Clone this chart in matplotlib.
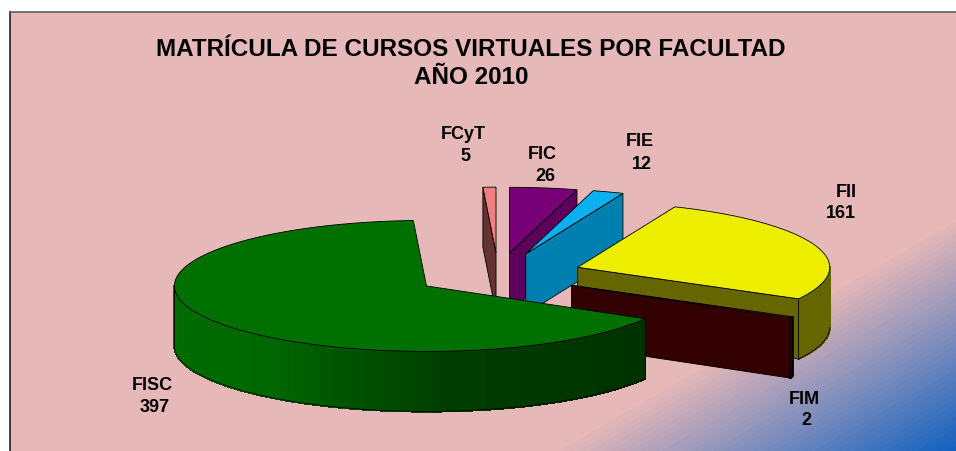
import numpy as np
import matplotlib
matplotlib.use('Agg')
import matplotlib.pyplot as plt
from matplotlib.collections import PolyCollection

# slices in clockwise order, starting at twelve o'clock
names = ['FIC', 'FIE', 'FII', 'FIM', 'FISC', 'FCyT']
values = [26, 12, 161, 2, 397, 5]

top_colors = ['#770077', '#0ab0f0', '#eeee00', '#800000', '#007000', '#f08080']
side_colors = ['#5c005c', '#0080b0', '#666600', '#330000', '#003800', '#663333']

# drawn back to front
draw_order = ['FCyT', 'FIC', 'FIE', 'FII', 'FIM', 'FISC']

title_lines = ['MATRÍCULA DE CURSOS VIRTUALES POR FACULTAD', 'AÑO 2010']

# label positions in pixels: name x, name y, value x, value y
label_pos = {'FCyT': (463, 135, 465, 157),
             'FIC': (542, 155, 545, 177),
             'FIE': (640, 142, 642, 165),
             'FII': (846, 193, 841, 214),
             'FIM': (804, 400, 806, 421),
             'FISC': (152, 386, 155, 408)}

# pie projection, pixels
cx, cy = 498.2, 275.5
rx, ry = 252, 65.5
depth = 60
explode = 0.334


def ell(x0, y0, theta):
    t = np.radians(theta)
    return x0 + rx * np.cos(t), y0 - ry * np.sin(t)


fig = plt.figure(figsize=(9.56, 4.52), dpi=100)
fig.patch.set_facecolor('white')
ax = fig.add_axes([0, 0, 1, 1])
ax.set_xlim(0, 956)
ax.set_ylim(452, 0)
ax.axis('off')

# background, pink fading to blue in the lower right corner
xx, yy = np.meshgrid(np.arange(10, 956), np.arange(13, 452))
frac = np.clip((0.5 * xx + 0.866 * yy - 665) / 204, 0, 1)
frac = np.floor(frac * 40) / 40
pink = np.array([230, 184, 184]) / 255
blue = np.array([14, 96, 192]) / 255
bg = pink + frac[..., None] * (blue - pink)
ax.imshow(bg, extent=(10, 956, 452, 13), aspect='auto', zorder=0)
ax.set_xlim(0, 956)
ax.set_ylim(452, 0)
ax.plot([10, 10], [452, 13], color='#202020', lw=1.2, zorder=1)
ax.plot([10, 956], [13, 13], color='#606060', lw=1.2, zorder=1)

# slice angles from the values
total = sum(values)
hi = 90 - np.cumsum([0] + values[:-1]) / total * 360
lo = 90 - np.cumsum(values) / total * 360

z = 2
for name in draw_order:
    i = names.index(name)
    a, b = lo[i], hi[i]
    mid = np.radians((a + b) / 2)
    x0 = cx + explode * rx * np.cos(mid)
    y0 = cy - explode * ry * np.sin(mid)

    # flat cut faces that look towards the viewer
    for theta, show in [(a, np.cos(np.radians(a)) > 0.001),
                        (b, np.cos(np.radians(b)) < -0.001)]:
        if show:
            ex, ey = ell(x0, y0, theta)
            ax.fill([x0, ex, ex, x0], [y0, ey, ey + depth, y0 + depth],
                    facecolor=side_colors[i], edgecolor='black', lw=0.6, zorder=z)
            z += 1

    # outer wall, only the part below the horizontal axis of the ellipse
    wall_a, wall_b = max(a, -180), min(b, 0)
    if wall_b > wall_a:
        th = np.linspace(wall_a, wall_b, max(int(wall_b - wall_a) * 2, 3))
        wx, wy = ell(x0, y0, th)
        strips = [[(wx[k], wy[k]), (wx[k + 1], wy[k + 1]),
                   (wx[k + 1], wy[k + 1] + depth), (wx[k], wy[k] + depth)]
                  for k in range(len(th) - 1)]
        if name == 'FISC':
            shade = np.interp(th[:-1], [-180, -128, -85, -30], [0.98, 0.92, 0.55, 0.43])
            shade = np.round(shade * 48) / 48
            cols = [(0, s * 112 / 255, 0) for s in shade]
        else:
            cols = [side_colors[i]] * len(strips)
        ax.add_collection(PolyCollection(strips, facecolors=cols, edgecolors=cols,
                                         linewidths=1.0, antialiaseds=False, zorder=z))
        ax.plot(wx, wy + depth, color='black', lw=0.6, zorder=z + 1)
        ax.plot([wx[0], wx[0]], [wy[0], wy[0] + depth], color='black', lw=0.6, zorder=z + 1)
        if wall_b < 0:
            ax.plot([wx[-1], wx[-1]], [wy[-1], wy[-1] + depth], color='black', lw=0.6, zorder=z + 1)
        z += 2

    # top face
    th = np.linspace(a, b, max(int(b - a) * 2, 3))
    tx, ty = ell(x0, y0, th)
    ax.fill(np.r_[x0, tx], np.r_[y0, ty], facecolor=top_colors[i],
            edgecolor='black', lw=0.6, zorder=z)
    z += 1

font = {'family': 'Liberation Sans', 'weight': 'bold', 'color': 'black'}
for k, line in enumerate(title_lines):
    ax.text(471, 50 + 27 * k, line, fontsize=17.5, ha='center', va='center',
            zorder=z, **font)

for name, value in zip(names, values):
    nx, ny, vx, vy = label_pos[name]
    ax.text(nx, ny, name, fontsize=13, ha='center', va='center', zorder=z, **font)
    ax.text(vx, vy, str(value), fontsize=13, ha='center', va='center', zorder=z, **font)

fig.savefig('out.png', dpi=100)
